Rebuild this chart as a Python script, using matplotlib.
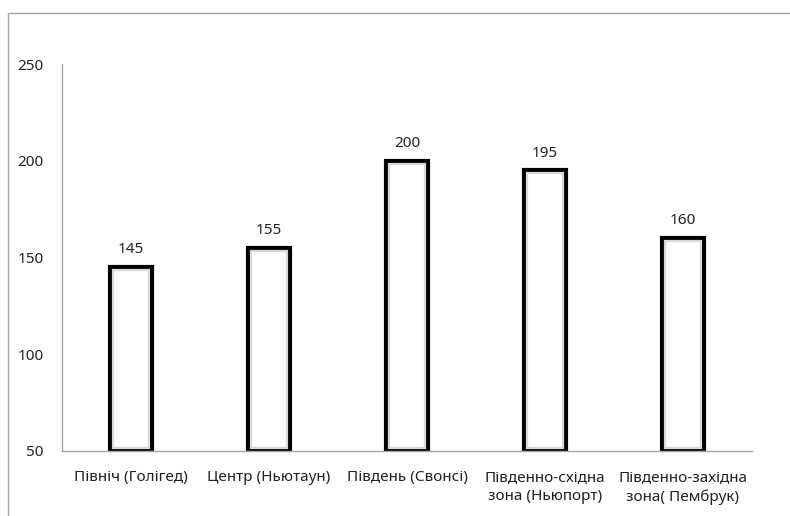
import matplotlib
matplotlib.use('Agg')
import matplotlib.pyplot as plt
from matplotlib.patches import Rectangle

regions = ["Північ (Голігед)", "Центр (Ньютаун)", "Південь (Свонсі)",
           "Південно-східна\nзона (Ньюпорт)", "Південно-західна\nзона( Пембрук)"]
values = [145, 155, 200, 195, 160]
y_ticks = [50, 100, 150, 200, 250]

plt.rcParams['font.family'] = ['Noto Sans', 'DejaVu Sans']

fig = plt.figure(figsize=(7.9, 5.16), dpi=100)
# outer chart frame (only top and left edges are visible in the crop)
fig.add_artist(Rectangle((8 / 790, -0.1), 1.2, 1 - 13 / 516 + 0.1, transform=fig.transFigure,
                         fill=False, edgecolor='#a6a6a6', linewidth=1.0))

ax = fig.add_axes([62 / 790, 65 / 516, 690 / 790, 387 / 516])
ymin = y_ticks[0]
x = range(len(values))
heights = [v - ymin for v in values]
ax.bar(x, heights, bottom=ymin, width=0.3, color='white', edgecolor='black', linewidth=3, zorder=2)
# soft inner shading like the original gradient fill
inner = [h - 3 for h in heights]
ax.bar(x, inner, bottom=ymin + 1.5, width=0.255, color='none', edgecolor='#d8d8d8', linewidth=1.6, zorder=3)

for i, v in enumerate(values):
    ax.annotate(str(v), (i, v), xytext=(0, 7), textcoords='offset points',
                ha='center', va='bottom', fontsize=11, color='#222222')

ax.set_xlim(-0.5, len(values) - 0.5)
ax.set_ylim(ymin, y_ticks[-1])
ax.set_yticks(y_ticks)
ax.set_xticks(list(x))
ax.set_xticklabels(regions, linespacing=1.35)
ax.tick_params(axis='both', length=0, labelsize=11, colors='#222222')
ax.tick_params(axis='y', pad=13)
ax.tick_params(axis='x', pad=14)

for s in ['top', 'right']:
    ax.spines[s].set_visible(False)
for s in ['left', 'bottom']:
    ax.spines[s].set_color('#a6a6a6')
    ax.spines[s].set_linewidth(1.0)

fig.savefig('out.png', dpi=100)
plt.close(fig)
